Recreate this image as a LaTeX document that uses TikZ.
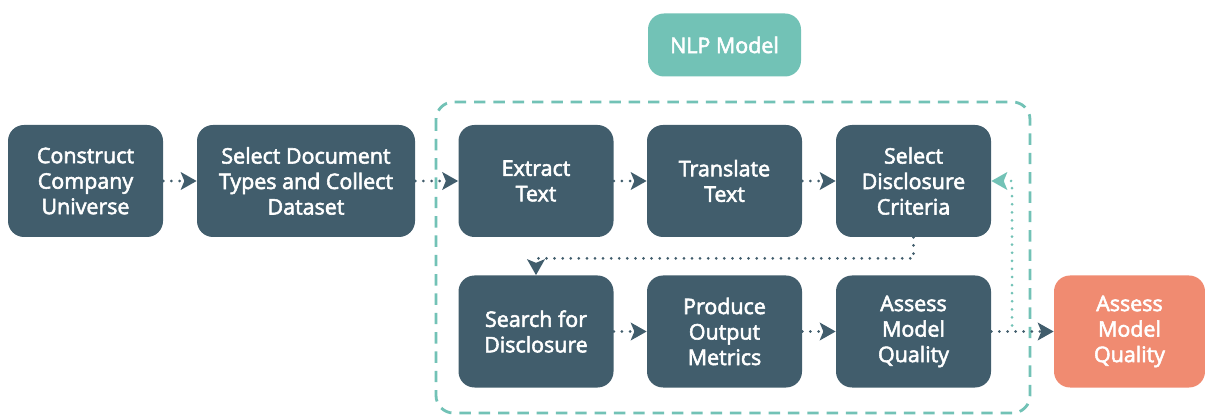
\documentclass[tikz,border=0pt]{standalone}
\usepackage{fontspec}
\setmainfont{Open Sans}
\newfontfamily\boxfont{Open Sans}[FakeBold=2.6]
\usepackage{tikz}
\usetikzlibrary{arrows.meta,positioning}

\definecolor{slate}{HTML}{415D6C}
\definecolor{mint}{HTML}{72C2B6}
\definecolor{salmon}{HTML}{F08B71}

\begin{document}
\begin{tikzpicture}[
    box/.style={rectangle, rounded corners=0.32cm, fill=slate, text=white,
        minimum width=3.1cm, minimum height=2.24cm, align=center,
        font=\boxfont\fontsize{12.2}{14.5}\selectfont, inner sep=2pt},
    dotflow/.style={slate, line width=1.7pt, line cap=round,
        dash pattern=on 0pt off 4.6pt, -{Stealth[length=9pt,width=10pt,inset=2pt]}},
    loopflow/.style={dotflow, mint}
]
\useasboundingbox (0,0) rectangle (24.1,8.34);

% Dashed frame round the model steps
\draw[mint, line width=1.6pt, dash pattern=on 6.5pt off 4.5pt, rounded corners=0.35cm]
    (8.72,6.3) rectangle (20.6,0.08);

% Label box
\node[box, fill=mint, minimum width=3.06cm, minimum height=1.26cm] (nlp) at (14.49,7.44) {NLP Model};

% Top row
\node[box] (universe) at (1.71,4.72) {Construct\\Company\\Universe};
\node[box, minimum width=4.36cm] (dataset) at (6.12,4.72) {Select Document\\Types and Collect\\Dataset};
\node[box] (extract) at (10.72,4.72) {Extract\\Text};
\node[box] (translate) at (14.49,4.72) {Translate\\Text};
\node[box] (criteria) at (18.27,4.72) {Select\\Disclosure\\Criteria};

% Bottom row
\node[box] (search) at (10.72,1.71) {Search for\\Disclosure};
\node[box] (metrics) at (14.49,1.71) {Produce\\Output\\Metrics};
\node[box] (quality) at (18.27,1.71) {Assess\\Model\\Quality};
\node[box, fill=salmon, minimum width=3.02cm] (review) at (22.59,1.71) {Assess\\Model\\Quality};

% Flow
\draw[dotflow] (universe) -- (dataset);
\draw[dotflow] (dataset) -- (extract);
\draw[dotflow] (extract) -- (translate);
\draw[dotflow] (translate) -- (criteria);
\draw[dotflow] (criteria.south) -- ++(0,-0.42) -| (search.north);
\draw[dotflow] (search) -- (metrics);
\draw[dotflow] (metrics) -- (quality);
\draw[dotflow] (quality) -- (review);

% Feedback loop
\coordinate (back) at (20.24,1.83);
\draw[loopflow] (back) |- (criteria.east);

\end{tikzpicture}
\end{document}
